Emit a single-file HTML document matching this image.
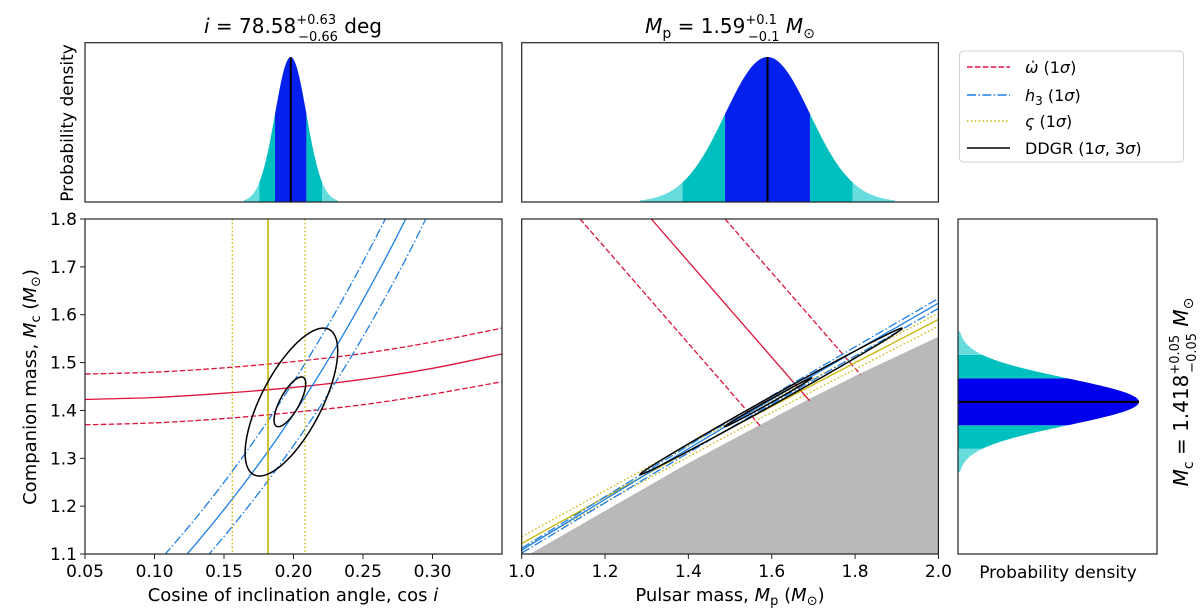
<!DOCTYPE html>
<html><head><meta charset="utf-8"><style>
html,body{margin:0;padding:0;background:#fff;}
svg{display:block;font-family:"DejaVu Sans","Liberation Sans",sans-serif;}
</style></head><body>
<svg id="fig" width="1200" height="613" viewBox="0 0 1200 613" xmlns="http://www.w3.org/2000/svg">
<defs>
<clipPath id="cl"><rect x="85" y="219" width="417" height="335"/></clipPath>
<clipPath id="cm"><rect x="521.7" y="219" width="416.7" height="335"/></clipPath>
</defs>
<g id="layer"></g>
<text x="293" y="33" font-size="20" text-anchor="middle"><tspan font-style="italic">i</tspan> = 78.58<tspan font-size="13" dy="-9">+0.63</tspan><tspan font-size="13" dx="-38" dy="17">−0.66</tspan><tspan dy="-8"> deg</tspan></text>
<text x="730" y="33" font-size="20" text-anchor="middle"><tspan font-style="italic">M</tspan><tspan font-size="14" dy="5">p</tspan><tspan dy="-5"> = 1.59</tspan><tspan font-size="13" dy="-9">+0.1</tspan><tspan font-size="13" dx="-29" dy="17">−0.1</tspan><tspan dy="-8" font-style="italic"> M</tspan><tspan font-size="14" dy="5">⊙</tspan></text>
<text transform="translate(1188,392) rotate(-90)" font-size="20" text-anchor="middle"><tspan font-style="italic">M</tspan><tspan font-size="14" dy="5">c</tspan><tspan dy="-5"> = 1.418</tspan><tspan font-size="13" dy="-9">+0.05</tspan><tspan font-size="13" dx="-38" dy="17">−0.05</tspan><tspan dy="-8" font-style="italic"> M</tspan><tspan font-size="14" dy="5">⊙</tspan></text>
<text transform="translate(73,123) rotate(-90)" font-size="17" text-anchor="middle">Probability density</text>
<text transform="translate(36,387) rotate(-90)" font-size="18" text-anchor="middle">Companion mass, <tspan font-style="italic">M</tspan><tspan font-size="13" dy="4">c</tspan><tspan dy="-4"> (</tspan><tspan font-style="italic">M</tspan><tspan font-size="13" dy="4">⊙</tspan><tspan dy="-4">)</tspan></text>
<text x="293" y="601" font-size="18" text-anchor="middle">Cosine of inclination angle, cos <tspan font-style="italic">i</tspan></text>
<text x="730" y="601" font-size="18" text-anchor="middle">Pulsar mass, <tspan font-style="italic">M</tspan><tspan font-size="13" dy="4">p</tspan><tspan dy="-4"> (</tspan><tspan font-style="italic">M</tspan><tspan font-size="13" dy="4">⊙</tspan><tspan dy="-4">)</tspan></text>
<text x="1058" y="578" font-size="17" text-anchor="middle">Probability density</text>
<g>
<rect x="959.5" y="51" width="224" height="111" rx="4" fill="#fff" stroke="#d0d0d0"/>
<g><line x1="967" y1="67" x2="1010" y2="67" stroke="#dc143c" stroke-width="1.5" stroke-dasharray="5.5,2.4"/><text x="1025" y="73" font-size="16"><tspan font-style="italic">ω̇</tspan> (1<tspan font-style="italic">σ</tspan>)</text></g>
<g><line x1="967" y1="95" x2="1010" y2="95" stroke="#1e7fe6" stroke-width="1.5" stroke-dasharray="9,2.4,1.5,2.4"/><text x="1025" y="101" font-size="16"><tspan font-style="italic">h</tspan><tspan font-size="12" dy="4">3</tspan><tspan dy="-4"> (1</tspan><tspan font-style="italic">σ</tspan>)</text></g>
<g><line x1="967" y1="121" x2="1010" y2="121" stroke="#c8b400" stroke-width="1.5" stroke-dasharray="1.5,2.4"/><text x="1025" y="127" font-size="16"><tspan font-style="italic">ς</tspan> (1<tspan font-style="italic">σ</tspan>)</text></g>
<g><line x1="967" y1="148" x2="1010" y2="148" stroke="#000" stroke-width="1.5"/><text x="1025" y="154" font-size="16">DDGR (1<tspan font-style="italic">σ</tspan>, 3<tspan font-style="italic">σ</tspan>)</text></g>
</g>
</svg>
<script>
// ---- data ----
const cosTicks = [0.05,0.10,0.15,0.20,0.25,0.30];
const mcTicks = [1.1,1.2,1.3,1.4,1.5,1.6,1.7,1.8];
const mpTicks = [1.0,1.2,1.4,1.6,1.8,2.0];
const cosiPost = [0.198, 0.0113];
const mpPost = [1.59, 0.102];
const mcPost = [1.418, 0.049];
const omCos = [0.05,0.10,0.15,0.20,0.25,0.30,0.35];
const omMid = [1.423,1.427,1.436,1.448,1.465,1.488,1.518];
const omHi  = [1.476,1.480,1.489,1.502,1.519,1.543,1.572];
const omLo  = [1.370,1.374,1.383,1.396,1.412,1.434,1.460];
const h3Cos   = [0.10,0.13,0.16,0.19,0.22,0.25,0.28,0.31];
const h3Mid   = [1.024,1.122,1.230,1.349,1.482,1.631,1.796,1.983];
const h3Left  = [1.074,1.176,1.289,1.415,1.554,1.710,1.883,2.078];
const h3Right = [0.976,1.069,1.172,1.286,1.412,1.554,1.712,1.889];
const stigCos = [0.156, 0.1817, 0.2083];
const ddgrCosOuter = [0.1985,1.4175,0.0333,0.1545,0.69];
const ddgrCosInner = [0.1974,1.418,0.0114,0.052,0.73];
const ddgrMpOuter = [1.5985,1.419,0.3145,0.153,0.998];
const ddgrMpInner = [1.5915,1.417,0.1045,0.051,0.997];
const omTotal = [2.94, 3.111, 3.288];
const excMp = [1.0,1.02,1.2,1.4,1.568,1.688,1.81,2.0];
const excMc = [1.09,1.1,1.19,1.29,1.368,1.423,1.476,1.554];
const lineMp = [1.0,1.5,2.0];
const h3MpMid = [1.108,1.372,1.624];
const h3MpHi  = [1.112,1.379,1.634];
const h3MpLo  = [1.102,1.363,1.613];
const stMpMid = [1.122,1.362,1.590];
const stMpHi  = [1.136,1.375,1.603];
const stMpLo  = [1.112,1.350,1.576];

const XL = v => 85 + (v-0.05)/0.30*417;
const XM = v => 521.7 + (v-1)*416.7;
const Y  = v => 219 + (1.8-v)/0.7*335;
const NS='http://www.w3.org/2000/svg';
const layer=document.getElementById('layer');
function el(tag,attrs,parent){const e=document.createElementNS(NS,tag);for(const k in attrs)e.setAttribute(k,attrs[k]);(parent||layer).appendChild(e);return e;}
function smooth(pts){let d='M'+pts[0][0]+','+pts[0][1];for(let i=0;i<pts.length-1;i++){const p0=pts[i-1]||pts[i],p1=pts[i],p2=pts[i+1],p3=pts[i+2]||p2;d+=' C'+(p1[0]+(p2[0]-p0[0])/6)+','+(p1[1]+(p2[1]-p0[1])/6)+' '+(p2[0]-(p3[0]-p1[0])/6)+','+(p2[1]-(p3[1]-p1[1])/6)+' '+p2[0]+','+p2[1];}return d;}
const RED='#dc143c',BLU='#1e7fe6',YEL='#c8b400';
const DASH='5.5,2.4',DD='9,2.4,1.5,2.4',DOT='1.5,2.4';
function gauss(z){return Math.exp(-0.5*z*z);}
const bandCols=['#66dcdc','#00bfbf','#0320ee','#00bfbf','#66dcdc'];
const zs=[-3,-2,-1,1,2,3];

(function(){
 const g=el('g',{});
 
 
 const [m,s]=cosiPost; const H=145;
 for(let b=0;b<5;b++){const a=zs[b],c=zs[b+1];
  let d='M'+XL(m+a*s)+',202';for(let z=a;z<=c+1e-9;z+=0.05)d+=' L'+XL(m+z*s)+','+(202-H*gauss(z));d+=' L'+XL(m+c*s)+',202Z';
  const p=el('path',{d:d,fill:bandCols[b]},g);
  
  }
 const l=el('line',{x1:XL(m),x2:XL(m),y1:202,y2:202-H,stroke:'#000','stroke-width':2},g);
 
 
 const r=el('rect',{x:85,y:42.7,width:417,height:159.3,fill:'none',stroke:'#222','stroke-width':1.2},g);
 
 
})();
(function(){
 const g=el('g',{});
 
 
 const [m,s]=mpPost; const H=145;
 for(let b=0;b<5;b++){const a=zs[b],c=zs[b+1];
  let d='M'+XM(m+a*s)+',202';for(let z=a;z<=c+1e-9;z+=0.05)d+=' L'+XM(m+z*s)+','+(202-H*gauss(z));d+=' L'+XM(m+c*s)+',202Z';
  const p=el('path',{d:d,fill:bandCols[b]},g);
  
  }
 const l=el('line',{x1:XM(m),x2:XM(m),y1:202,y2:202-H,stroke:'#000','stroke-width':2},g);
 
 
 const r=el('rect',{x:521.7,y:42.7,width:416.7,height:159.3,fill:'none',stroke:'#222','stroke-width':1.2},g);
 
 
})();
(function(){
 const g=el('g',{});
 
 
 const [m,s]=mcPost; const W=181;
 const cols=['#66dcdc','#00bfbf','#0000ee','#00bfbf','#66dcdc'];
 for(let b=0;b<5;b++){const a=zs[b],c=zs[b+1];
  let d='M958,'+Y(m+a*s);for(let z=a;z<=c+1e-9;z+=0.05)d+=' L'+(958+W*gauss(z))+','+Y(m+z*s);d+=' L958,'+Y(m+c*s)+'Z';
  const p=el('path',{d:d,fill:cols[b]},g);
  
  }
 const l=el('line',{x1:958,x2:958+W,y1:Y(m),y2:Y(m),stroke:'#000','stroke-width':2},g);
 
 
 const r=el('rect',{x:958,y:219,width:199,height:335,fill:'none',stroke:'#222','stroke-width':1.2},g);
 
 
})();
function ellipse(par,X){const [cx,cy,sx,sy,rho]=par;const ph=Math.acos(rho);let d='';for(let i=0;i<=240;i++){const t=i/240*2*Math.PI;const x=X(cx+sx*Math.cos(t)),y=Y(cy+sy*Math.cos(t+ph));d+=(i?' L':'M')+x+','+y;}return d+'Z';}
(function(){
 const g=el('g',{'clip-path':'url(#cl)'});
 
 
 [[omHi,DASH],[omMid,null],[omLo,DASH]].forEach(([arr,da])=>{
  const p=el('path',{d:smooth(omCos.map((c,i)=>[XL(c),Y(arr[i])])),fill:'none',stroke:RED,'stroke-width':1.3},g);
  if(da)p.setAttribute('stroke-dasharray',da);
  
  });
 [[h3Left,DD],[h3Mid,null],[h3Right,DD]].forEach(([arr,da])=>{
  const p=el('path',{d:smooth(h3Cos.map((c,i)=>[XL(c),Y(arr[i])])),fill:'none',stroke:BLU,'stroke-width':1.3},g);
  if(da)p.setAttribute('stroke-dasharray',da);
  
  });
 stigCos.forEach((c,i)=>{
  const p=el('line',{x1:XL(c),x2:XL(c),y1:219,y2:554,stroke:YEL,'stroke-width':i==1?1.6:1.4},g);
  if(i!=1)p.setAttribute('stroke-dasharray',DOT);
  
  });
 [ddgrCosOuter,ddgrCosInner].forEach(par=>{
  const p=el('path',{d:ellipse(par,XL),fill:'none',stroke:'#000','stroke-width':1.5},g);
  
  });
 const r=el('rect',{x:85,y:219,width:417,height:335,fill:'none',stroke:'#222','stroke-width':1.2});
 
 
 cosTicks.forEach(v=>{el('line',{x1:XL(v),x2:XL(v),y1:554,y2:559,stroke:'#222'});
  const t=el('text',{x:XL(v),y:577,'font-size':17,'text-anchor':'middle'});t.textContent=v.toFixed(2);
  
  });
 mcTicks.forEach(v=>{el('line',{x1:80,x2:85,y1:Y(v),y2:Y(v),stroke:'#222'});
  const t=el('text',{x:77,y:Y(v)+6,'font-size':17,'text-anchor':'end'});t.textContent=v.toFixed(1);
  
  });
})();
(function(){
 const g=el('g',{'clip-path':'url(#cm)'});
 
 
 let d='M'+XM(excMp[0])+','+Y(1.1);excMp.forEach((m,i)=>d+=' L'+XM(m)+','+Y(excMc[i]));d+=' L'+XM(2.0)+','+Y(1.1)+'Z';
 const ex=el('path',{d:d,fill:'#b9b9b9'},g);
 
 
 function bound(mp){for(let i=0;i<excMp.length-1;i++)if(mp<=excMp[i+1]){const f=(mp-excMp[i])/(excMp[i+1]-excMp[i]);return excMc[i]+f*(excMc[i+1]-excMc[i]);}return excMc[excMc.length-1];}
 omTotal.forEach((T,i)=>{let a=T-1.8,b=a;for(let k=0;k<400;k++){const mp=a+k*0.005;if(T-mp<bound(mp)){b=mp;break;}}
  const p=el('line',{x1:XM(a),y1:Y(1.8),x2:XM(b),y2:Y(T-b),stroke:RED,'stroke-width':1.3},g);
  if(i!=1)p.setAttribute('stroke-dasharray',DASH);
  
  });
 [[stMpHi,DOT],[stMpMid,null],[stMpLo,DOT]].forEach(([arr,da])=>{
  const p=el('path',{d:smooth(lineMp.map((m,i)=>[XM(m),Y(arr[i])])),fill:'none',stroke:YEL,'stroke-width':1.3},g);
  if(da)p.setAttribute('stroke-dasharray',da);
  
  });
 [[h3MpHi,DD],[h3MpMid,null],[h3MpLo,DD]].forEach(([arr,da])=>{
  const p=el('path',{d:smooth(lineMp.map((m,i)=>[XM(m),Y(arr[i])])),fill:'none',stroke:BLU,'stroke-width':1.3},g);
  if(da)p.setAttribute('stroke-dasharray',da);
  
  });
 [ddgrMpOuter,ddgrMpInner].forEach(par=>{
  const p=el('path',{d:ellipse(par,XM),fill:'none',stroke:'#000','stroke-width':1.5},g);
  
  });
 const r=el('rect',{x:521.7,y:219,width:416.7,height:335,fill:'none',stroke:'#222','stroke-width':1.2});
 
 
 mpTicks.forEach(v=>{el('line',{x1:XM(v),x2:XM(v),y1:554,y2:559,stroke:'#222'});
  const t=el('text',{x:XM(v),y:577,'font-size':17,'text-anchor':'middle'});t.textContent=v.toFixed(1);
  
  });
})();
</script>
</body></html>
